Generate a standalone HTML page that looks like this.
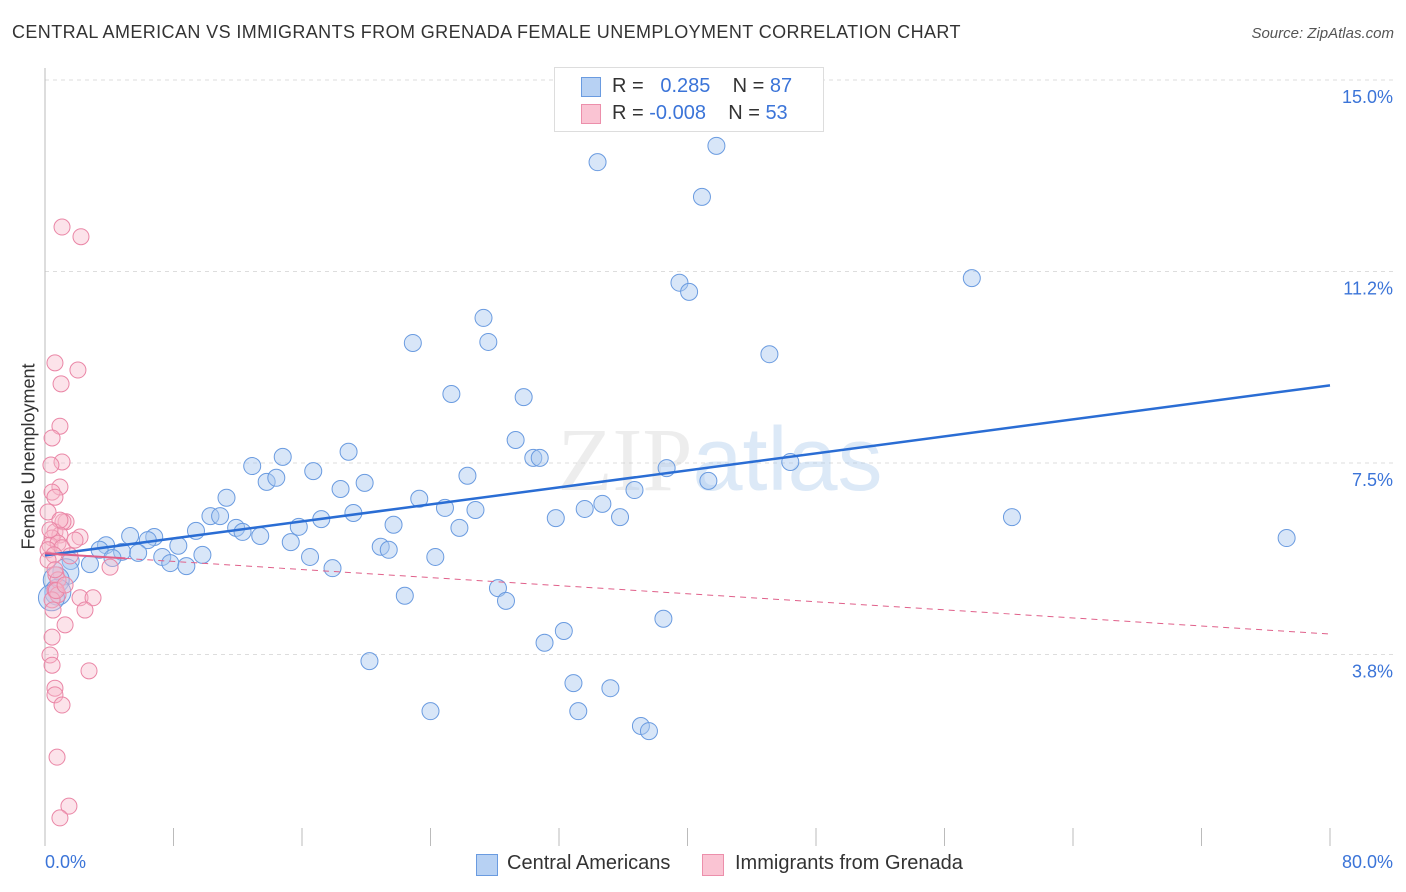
<!DOCTYPE html>
<html><head><meta charset="utf-8"><style>
body{margin:0;background:#fff;font-family:"Liberation Sans",sans-serif}
#wrap{position:relative;width:1406px;height:892px;overflow:hidden}
.t{position:absolute;white-space:nowrap}
</style></head><body>
<div id="wrap">
<div class="t" style="left:12px;top:22px;font-size:18px;letter-spacing:0.4px;color:#333">CENTRAL AMERICAN VS IMMIGRANTS FROM GRENADA FEMALE UNEMPLOYMENT CORRELATION CHART</div>
<div class="t" style="right:12px;top:25px;font-size:15px;color:#555;font-style:italic">Source: ZipAtlas.com</div>
<svg id="svg" width="1406" height="892" style="position:absolute;left:0;top:0"></svg>
</div>
<script>
const blueX=[34.4,41.8,40.9,39.5,40.1,57.7,27.3,22.9,27.6,45.1,25.3,29.8,29.3,18.9,30.4,30.8,12.9,14.8,16.7,26.3,38.7,46.4,41.3,13.8,14.4,18.4,19.9,11.3,23.3,36.7,34.7,33.6,24.9,26.8,19.2,31.8,35.8,10.3,10.9,17.2,15.8,21.7,25.8,11.9,60.2,77.3,9.4,12.3,13.4,5.3,6.8,6.4,15.3,8.3,3.8,20.9,21.4,3.4,4.8,5.8,9.8,7.3,16.5,24.3,4.2,2.8,1.6,7.8,8.8,17.9,1.3,0.7,28.2,28.7,22.4,0.8,0.4,38.5,32.3,31.1,20.2,32.9,35.2,24.0,33.2,37.1,37.6];
const blueY=[13.39,13.71,12.71,11.03,10.85,11.12,10.34,9.85,9.87,9.63,8.85,8.79,7.95,7.72,7.60,7.60,7.44,7.62,7.34,7.25,7.40,7.52,7.15,7.13,7.21,6.99,7.11,6.82,6.80,6.97,6.70,6.60,6.62,6.58,6.52,6.42,6.44,6.46,6.46,6.40,6.25,6.29,6.23,6.23,6.44,6.03,6.17,6.15,6.07,6.07,6.05,5.99,5.95,5.88,5.89,5.86,5.80,5.80,5.76,5.74,5.70,5.66,5.66,5.66,5.64,5.52,5.58,5.54,5.48,5.44,5.37,5.21,5.05,4.80,4.90,4.97,4.86,4.45,4.21,3.98,3.62,3.19,3.09,2.64,2.64,2.35,2.25];
const pinkX=[1.06,2.24,0.62,2.05,1.0,0.93,0.44,1.06,0.37,0.93,0.44,0.62,0.19,1.31,1.12,2.18,0.62,0.93,0.44,0.31,0.81,0.19,1.06,0.56,1.56,0.19,4.05,0.68,0.81,0.62,2.18,2.99,2.49,1.25,0.44,0.31,0.44,0.62,0.62,1.06,2.74,0.75,1.49,0.93,0.81,0.44,0.7,0.93,0.31,0.62,1.25,1.87,0.5];
const pinkY=[12.12,11.93,9.46,9.32,9.05,8.22,7.99,7.52,7.46,7.03,6.93,6.83,6.54,6.35,6.35,6.05,6.15,6.09,6.03,5.89,5.93,5.80,5.84,5.70,5.68,5.60,5.46,5.31,5.21,5.01,4.86,4.86,4.62,4.33,4.09,3.74,3.54,3.09,2.96,2.76,3.43,1.74,0.78,0.55,4.92,4.82,5.0,6.38,6.19,5.41,5.11,5.99,4.62];
const blueTrend=[5.69,9.02];
const pinkTrend=[5.73,4.15];
const yTicks=[15.0,11.25,7.5,3.75];
const yTickLabels=["15.0%","11.2%","7.5%","3.8%"];
const xTicks=[0,8,16,24,32,40,48,56,64,72,80];

const svg=document.getElementById('svg');const NS='http://www.w3.org/2000/svg';
const X=v=>45+v*1285/80, Y=v=>846-v*51.07;
function el(t,a,name,p){const e=document.createElementNS(NS,t);for(const k in a)e.setAttribute(k,a[k]);


(p||svg).appendChild(e);return e;}
yTicks.forEach((v,i)=>{
 el('line',{x1:45,x2:1393,y1:Y(v),y2:Y(v),stroke:'#ddd','stroke-dasharray':'4,4'},'gridline');
 const t=el('text',{x:1393,y:Y(v)+23,'text-anchor':'end','font-size':18,fill:'#3b74d8'},'y-tick-label');t.textContent=yTickLabels[i];
});
el('line',{x1:45,x2:45,y1:68,y2:846,stroke:'#bbb'},'y-axis-line');
xTicks.forEach(v=>el('line',{x1:X(v),x2:X(v),y1:828,y2:846,stroke:'#bbb'},'x-tick'));
const wm=el('text',{x:720,y:490,'text-anchor':'middle','font-size':90,fill:'#ccc','fill-opacity':0.35,'font-family':'Liberation Serif'},'watermark');
wm.innerHTML='ZIP<tspan fill="#9cc0e8" font-family="Liberation Sans">atlas</tspan>';
blueX.forEach((x,i)=>el('circle',{cx:X(x),cy:Y(blueY[i]),r:(x<1.5?13:8.5),fill:'#a9c8ef','fill-opacity':0.45,stroke:'#6a9be0','stroke-width':1},'blue-point'));
pinkX.forEach((x,i)=>el('circle',{cx:X(x),cy:Y(pinkY[i]),r:8,fill:'#f7b8cb','fill-opacity':0.4,stroke:'#ea86a6','stroke-width':1},'pink-point'));
el('line',{x1:X(0),y1:Y(blueTrend[0]),x2:X(80),y2:Y(blueTrend[1]),stroke:'#2a6dd4','stroke-width':2.5},'blue-trend-line');
const pm=v=>pinkTrend[0]+(pinkTrend[1]-pinkTrend[0])*v/80;
el('line',{x1:X(0),y1:Y(pm(0)),x2:X(5),y2:Y(pm(5)),stroke:'#e0608a','stroke-width':2},'pink-trend-solid');
el('line',{x1:X(5),y1:Y(pm(5)),x2:X(80),y2:Y(pm(80)),stroke:'#e0608a','stroke-width':1,'stroke-dasharray':'6,5'},'pink-trend-line');
</script>
<div class="t" style="left:45px;top:852px;font-size:18px;color:#3b74d8">0.0%</div>
<div class="t" style="right:13px;top:852px;font-size:18px;color:#3b74d8">80.0%</div>
<div class="t" style="left:-64px;top:446px;font-size:18px;color:#333;transform:rotate(-90deg)">Female Unemployment</div>
<div style="position:absolute;left:554px;top:67px;width:268px;height:63px;border:1px solid #ddd;background:#fff;font-size:20px;color:#333">
 <div style="position:absolute;left:26px;top:9px;width:18px;height:18px;background:#b7d1f3;border:1px solid #6a9be0"></div>
 <div class="t" style="left:57px;top:7px">R = &nbsp;&nbsp;<span style="color:#3b74d8">0.285</span>&nbsp;&nbsp;&nbsp; N = <span style="color:#3b74d8">87</span></div>
 <div style="position:absolute;left:26px;top:36px;width:18px;height:18px;background:#fac4d3;border:1px solid #ec8fab"></div>
 <div class="t" style="left:57px;top:34px">R = <span style="color:#3b74d8">-0.008</span>&nbsp;&nbsp;&nbsp; N = <span style="color:#3b74d8">53</span></div>
</div>
<div style="position:absolute;left:476px;top:854px;width:20px;height:20px;background:#b7d1f3;border:1px solid #6a9be0"></div>
<div class="t" style="left:507px;top:852px;font-size:20px;color:#333">Central Americans</div>
<div style="position:absolute;left:702px;top:854px;width:20px;height:20px;background:#fac4d3;border:1px solid #ec8fab"></div>
<div class="t" style="left:735px;top:852px;font-size:20px;color:#333">Immigrants from Grenada</div>
</body></html>
